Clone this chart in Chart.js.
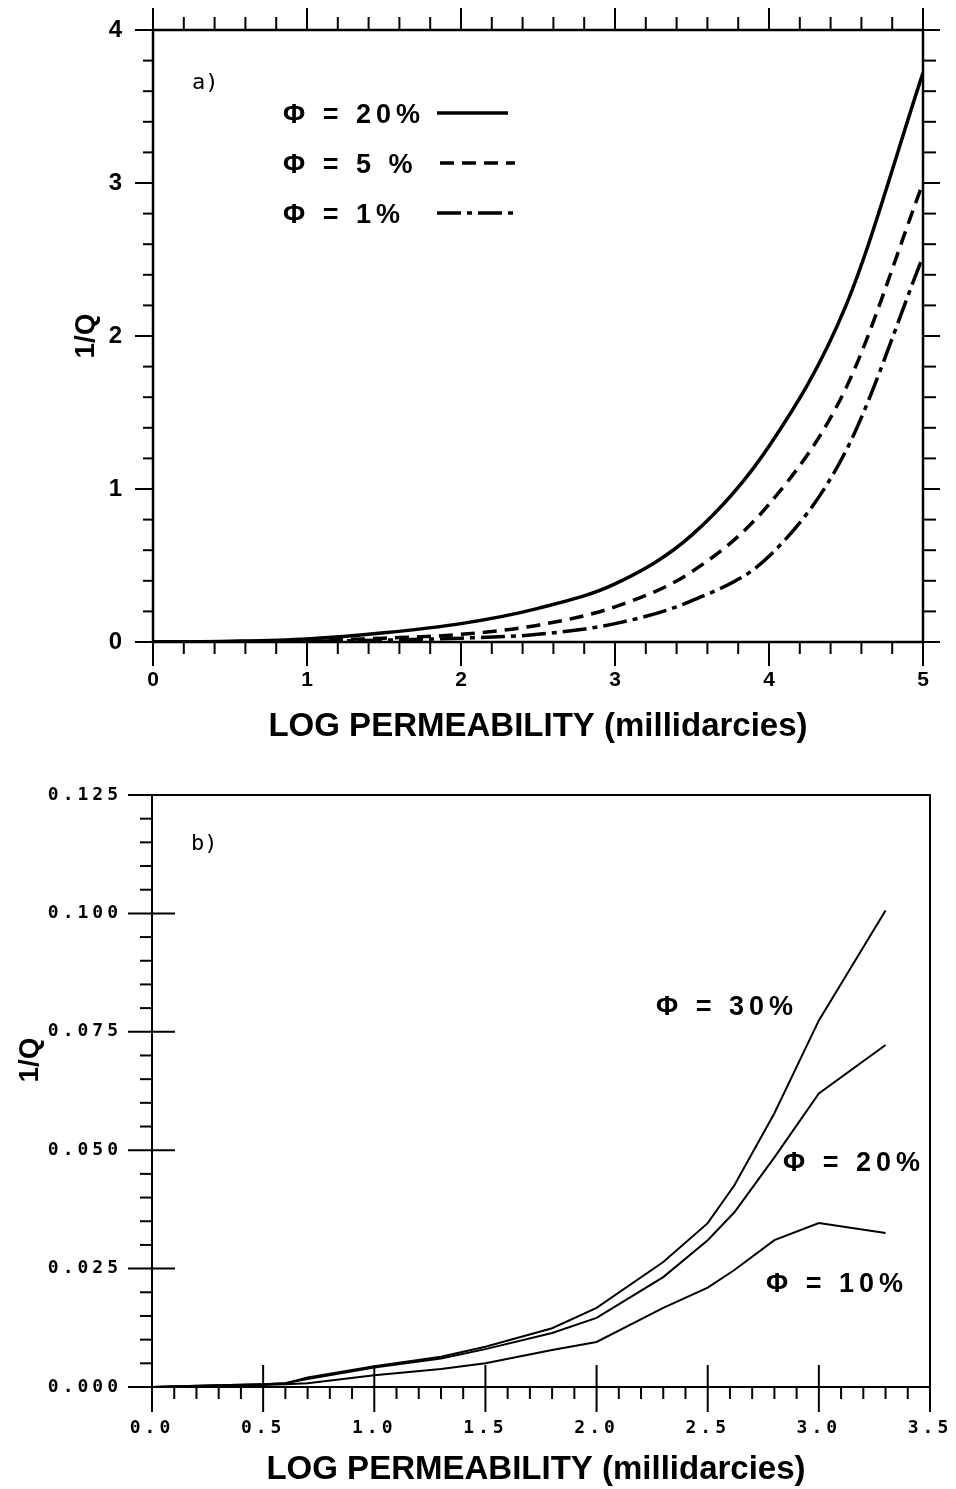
<!DOCTYPE html>
<html>
<head>
<meta charset="utf-8">
<script src="https://cdn.jsdelivr.net/npm/chart.js@4.4.1/dist/chart.umd.min.js"></script>
<style>
  html, body { margin: 0; padding: 0; background: #fff; }
  #boxA { position: absolute; left: 0; top: 0; }
  #boxB { position: absolute; left: 0; top: 760px; }
</style>
</head>
<body>
<div id="boxA"><canvas id="chartA" width="956" height="770"></canvas></div>
<div id="boxB"><canvas id="chartB" width="956" height="729"></canvas></div>
<script>
// a) 1/Q vs log permeability, three porosities
const permA = [0, 0.5, 1, 1.5, 2, 2.5, 3, 3.5, 4, 4.5, 5];
const qPhi20 = [0, 0.005, 0.02, 0.06, 0.12, 0.22, 0.38, 0.70, 1.28, 2.20, 3.72];
const qPhi5  = [0, 0.002, 0.01, 0.025, 0.05, 0.11, 0.23, 0.46, 0.90, 1.66, 3.00];
const qPhi1  = [0, 0.001, 0.005, 0.012, 0.025, 0.05, 0.12, 0.27, 0.56, 1.25, 2.52];
const legendA = ['\u03A6 = 20%', '\u03A6 = 5 %', '\u03A6 = 1%'];

// b) 1/Q vs log permeability (small range)
const permB = [0, 0.25, 0.5, 0.6, 0.7, 1.0, 1.3, 1.5, 1.8, 2.0, 2.3, 2.5, 2.62, 2.8, 3.0, 3.3];
const qB30 = [0, 0.0003, 0.0006, 0.0008, 0.0020, 0.0044, 0.0064, 0.0085, 0.0124, 0.0167, 0.0264, 0.0346, 0.0426, 0.0578, 0.0774, 0.1006];
const qB20 = [0, 0.0003, 0.0006, 0.0008, 0.0017, 0.0041, 0.0060, 0.0080, 0.0114, 0.0146, 0.0232, 0.0310, 0.0369, 0.0485, 0.0620, 0.0722];
const qB10 = [0, 0.0002, 0.0004, 0.0006, 0.0008, 0.0025, 0.0038, 0.0050, 0.0078, 0.0095, 0.0167, 0.0210, 0.0247, 0.0310, 0.0346, 0.0325];
const labelsB = ['\u03A6 = 30%', '\u03A6 = 20%', '\u03A6 = 10%'];

const xTitle = 'LOG PERMEABILITY (millidarcies)';
const yTitle = '1/Q';

const pts = (xs, ys) => xs.map((x, i) => ({ x: x, y: ys[i] }));
const SANS = '"Liberation Sans", Arial, sans-serif';
const MONO = '"DejaVu Sans Mono", monospace';

// keep the plot box where it is, no extra room for overhanging labels
const noPad = s => { s.paddingLeft = 0; s.paddingRight = 0; s.paddingTop = 0; s.paddingBottom = 0; };

function tickLine(ctx, x1, y1, x2, y2) {
  ctx.beginPath();
  ctx.moveTo(x1, y1);
  ctx.lineTo(x2, y2);
  ctx.stroke();
}

// ---------- chart a ----------
const frameA = {
  id: 'frameA',
  afterDraw(chart) {
    const { ctx, chartArea: a, scales } = chart;
    const xs = scales.x, ys = scales.y;
    ctx.save();
    ctx.strokeStyle = '#000';
    ctx.lineWidth = 2.5;
    ctx.strokeRect(a.left, a.top, a.right - a.left, a.bottom - a.top);
    ctx.lineWidth = 2;
    for (let i = 0; i <= 25; i++) {
      const px = xs.getPixelForValue(i / 5);
      const major = i % 5 === 0;
      tickLine(ctx, px, a.bottom, px, a.bottom + (major ? 24 : 12));
      tickLine(ctx, px, a.top, px, a.top - (major ? 22 : 13));
    }
    for (let i = 0; i <= 20; i++) {
      const py = ys.getPixelForValue(i / 5);
      const major = i % 5 === 0;
      tickLine(ctx, a.left, py, a.left - (major ? 18 : 10), py);
      tickLine(ctx, a.right, py, a.right + (major ? 17 : 13), py);
    }

    // panel tag
    ctx.fillStyle = '#000';
    ctx.font = '22px ' + MONO;
    ctx.textBaseline = 'middle';
    ctx.textAlign = 'left';
    ctx.fillText('a)', 192, 83);

    // legend
    ctx.font = 'bold 27px ' + SANS;
    ctx.letterSpacing = '5px';
    const rows = [116, 166, 216];
    legendA.forEach((t, i) => ctx.fillText(t, 283, rows[i]));
    ctx.letterSpacing = '0px';
    ctx.lineWidth = 3.5;
    const sample = [[437, 508], [440, 515], [437, 517]];
    chart.data.datasets.forEach((d, i) => {
      ctx.setLineDash(d.borderDash || []);
      tickLine(ctx, sample[i][0], rows[i] - 3, sample[i][1], rows[i] - 3);
    });
    ctx.setLineDash([]);

    // y title
    ctx.translate(86, (a.top + a.bottom) / 2);
    ctx.rotate(-Math.PI / 2);
    ctx.font = 'bold 28px ' + SANS;
    ctx.textAlign = 'center';
    ctx.fillText(yTitle, 0, 0);
    ctx.restore();
  }
};

new Chart(document.getElementById('chartA'), {
  type: 'line',
  data: {
    datasets: [
      { label: legendA[0], data: pts(permA, qPhi20), borderDash: [] },
      { label: legendA[1], data: pts(permA, qPhi5), borderDash: [14, 8] },
      { label: legendA[2], data: pts(permA, qPhi1), borderDash: [24, 6, 5, 6] }
    ].map(d => Object.assign(d, {
      borderColor: '#000', borderWidth: 3.5, pointRadius: 0,
      cubicInterpolationMode: 'monotone', fill: false
    }))
  },
  options: {
    responsive: false,
    animation: false,
    layout: { padding: { top: 30, right: 33, left: 0, bottom: 0 } },
    plugins: { legend: { display: false }, tooltip: { enabled: false } },
    scales: {
      x: {
        type: 'linear', min: 0, max: 5,
        grid: { display: false, drawTicks: false },
        border: { display: false },
        ticks: { stepSize: 1, color: '#000', padding: 26, font: { family: SANS, size: 21, weight: 'bold' } },
        title: { display: true, text: xTitle, color: '#000', font: { family: SANS, size: 33, weight: 'bold' }, padding: { bottom: 23 } },
        afterFit: s => { s.height = 128; noPad(s); }
      },
      y: {
        min: 0, max: 4,
        grid: { display: false, drawTicks: false },
        border: { display: false },
        ticks: { stepSize: 1, color: '#000', padding: 31, font: { family: SANS, size: 24, weight: 'bold' } },
        afterFit: s => { s.width = 153; noPad(s); }
      }
    }
  },
  plugins: [frameA]
});

// ---------- chart b ----------
const frameB = {
  id: 'frameB',
  beforeDraw(chart) {
    // wide plotter-style spacing for the tick numbers
    chart.ctx.letterSpacing = '4px';
  },
  afterDraw(chart) {
    const { ctx, chartArea: a, scales } = chart;
    const xs = scales.x, ys = scales.y;
    ctx.letterSpacing = '0px';
    ctx.save();
    ctx.strokeStyle = '#000';
    ctx.lineWidth = 2;
    ctx.strokeRect(a.left, a.top, a.right - a.left, a.bottom - a.top);
    for (let i = 0; i <= 35; i++) {
      const px = xs.getPixelForValue(i / 10);
      if (i % 5 === 0) tickLine(ctx, px, a.bottom - 22, px, a.bottom + 25);
      else tickLine(ctx, px, a.bottom, px, a.bottom + 12);
    }
    for (let i = 0; i <= 25; i++) {
      const py = ys.getPixelForValue(i * 0.005);
      if (i % 5 === 0) tickLine(ctx, a.left - 24, py, a.left + 23, py);
      else tickLine(ctx, a.left - 12, py, a.left, py);
    }

    ctx.fillStyle = '#000';
    ctx.textBaseline = 'middle';
    ctx.textAlign = 'left';
    ctx.font = '22px ' + MONO;
    ctx.fillText('b)', 191, 84);

    ctx.font = 'bold 27px ' + SANS;
    ctx.letterSpacing = '5px';
    ctx.fillText(labelsB[0], 656, 248);
    ctx.fillText(labelsB[1], 783, 404);
    ctx.fillText(labelsB[2], 766, 525);
    ctx.letterSpacing = '0px';

    // axis titles
    ctx.textAlign = 'center';
    ctx.font = 'bold 33px ' + SANS;
    ctx.fillText(xTitle, 536, 710);
    ctx.translate(30, 300);
    ctx.rotate(-Math.PI / 2);
    ctx.font = 'bold 28px ' + SANS;
    ctx.fillText(yTitle, 0, 0);
    ctx.restore();
  }
};

new Chart(document.getElementById('chartB'), {
  type: 'line',
  data: {
    datasets: [
      { label: labelsB[0], data: pts(permB, qB30) },
      { label: labelsB[1], data: pts(permB, qB20) },
      { label: labelsB[2], data: pts(permB, qB10) }
    ].map(d => Object.assign(d, {
      borderColor: '#000', borderWidth: 2, pointRadius: 0, tension: 0, fill: false
    }))
  },
  options: {
    responsive: false,
    animation: false,
    layout: { padding: { top: 35, right: 26, left: 0, bottom: 0 } },
    plugins: { legend: { display: false }, tooltip: { enabled: false } },
    scales: {
      x: {
        type: 'linear', min: 0, max: 3.5,
        grid: { display: false, drawTicks: false },
        border: { display: false },
        ticks: {
          stepSize: 0.5, color: '#000', padding: 31,
          font: { family: MONO, size: 18, weight: 'bold' },
          callback: v => v.toFixed(1)
        },
        afterFit: s => { s.height = 102; noPad(s); }
      },
      y: {
        min: 0, max: 0.125,
        grid: { display: false, drawTicks: false },
        border: { display: false },
        ticks: {
          stepSize: 0.025, color: '#000', padding: 30,
          font: { family: MONO, size: 18, weight: 'bold' },
          callback: v => v.toFixed(3)
        },
        afterFit: s => { s.width = 152; noPad(s); }
      }
    }
  },
  plugins: [frameB]
});
</script>
</body>
</html>
